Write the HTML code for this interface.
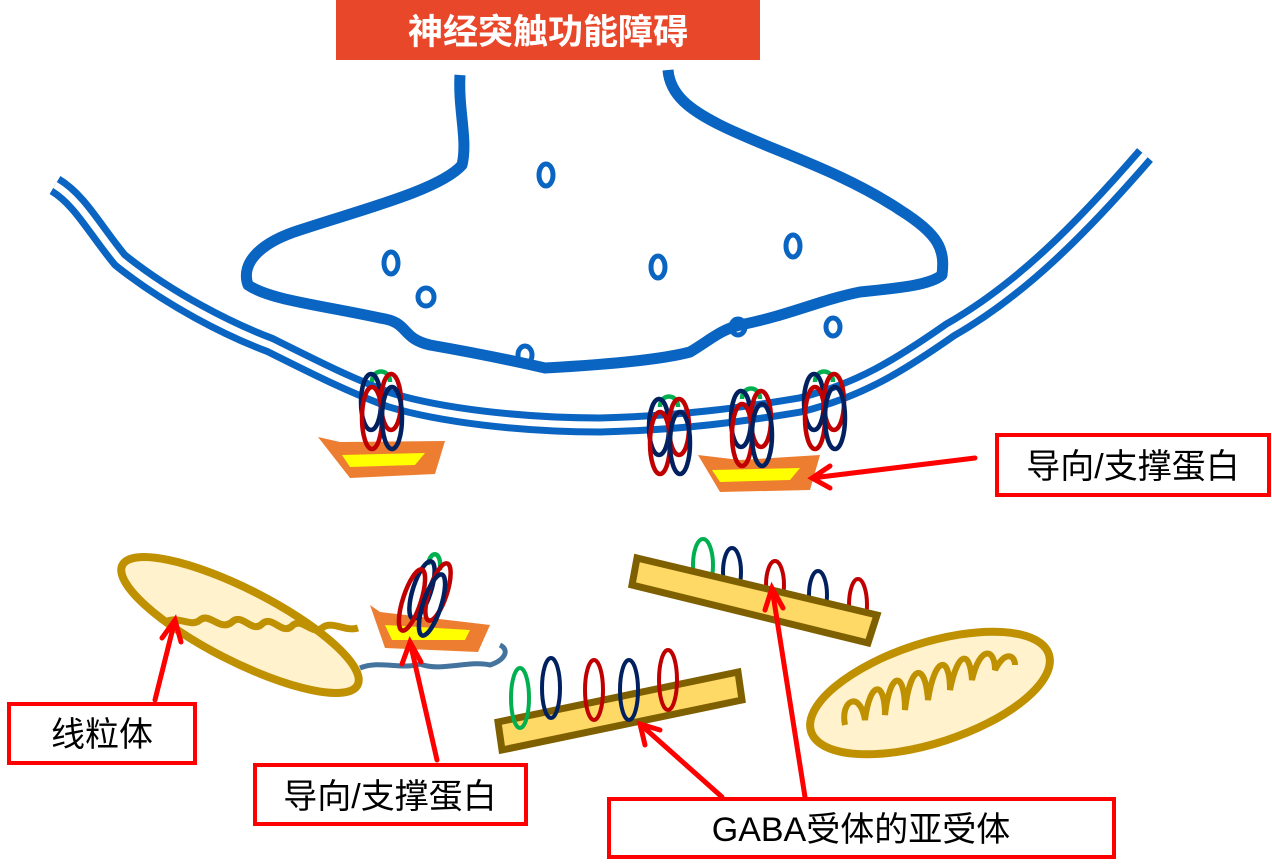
<!DOCTYPE html>
<html><head><meta charset="utf-8"><style>
body{margin:0;width:1272px;height:862px;background:#fff;overflow:hidden}
</style></head><body>
<svg width="1272" height="862" viewBox="0 0 1272 862" xmlns="http://www.w3.org/2000/svg" font-family="Liberation Sans, Noto Sans CJK SC, sans-serif">
<rect x="336" y="0" width="424" height="60" fill="#E8472A"/>
<text x="548" y="44" text-anchor="middle" fill="#fff" font-size="35" font-weight="bold">神经突触功能障碍</text>

<!-- postsynaptic membrane -->
<path d="M55,185 C80,200 95,230 120,260 C170,300 230,330 270,345 C320,370 350,385 390,400 C440,415 520,425 600,425 C680,423 740,415 800,405 C860,390 900,365 950,330 C1020,290 1080,230 1145,155" fill="none" stroke="#0A64C2" stroke-width="21"/>
<path d="M55,185 C80,200 95,230 120,260 C170,300 230,330 270,345 C320,370 350,385 390,400 C440,415 520,425 600,425 C680,423 740,415 800,405 C860,390 900,365 950,330 C1020,290 1080,230 1145,155" fill="none" stroke="#fff" stroke-width="7"/>

<!-- presynaptic terminal -->
<path d="M460,75 C458,110 468,140 462,165 C440,190 360,210 300,230 C262,242 240,262 248,285 C270,300 320,305 380,318 C410,322 400,338 430,345 C470,352 510,360 545,368 C600,365 660,360 690,352 C710,340 720,330 740,325 C790,315 820,300 860,292 C900,288 930,285 942,275 C945,250 940,235 900,210 C840,170 770,150 720,125 C690,110 670,95 668,70" fill="none" stroke="#0A64C2" stroke-width="11" stroke-linejoin="round"/>
<g fill="none" stroke="#0A64C2" stroke-width="5">
<ellipse cx="546" cy="175" rx="7" ry="11"/><ellipse cx="391" cy="263" rx="7" ry="11"/>
<ellipse cx="658" cy="267" rx="7" ry="11"/><ellipse cx="793" cy="246" rx="7" ry="11"/>
<ellipse cx="426" cy="297" rx="8" ry="9"/><ellipse cx="525" cy="355" rx="7" ry="9"/>
<ellipse cx="738" cy="327" rx="7" ry="8"/><ellipse cx="833" cy="327" rx="7" ry="9"/>
</g>

<!-- boats -->
<g>
<path d="M318,437 L340,442 L445,441 L435,474 L350,478 Z" fill="#ED7D31"/>
<path d="M342,455 L425,453 L415,465 L350,467 Z" fill="#FFFF00"/>
<path d="M698,455 L740,460 L820,455 L810,490 L720,492 Z" fill="#ED7D31"/>
<path d="M712,470 L800,468 L790,480 L720,482 Z" fill="#FFFF00"/>
</g>

<!-- receptor clusters -->
<defs>
<g id="rc" fill="none" stroke-width="4.5">
<path d="M-9,2 C-9,-12 9,-12 9,2" stroke="#00B050"/>
<ellipse cx="-10" cy="22" rx="10" ry="28" stroke="#002060"/>
<ellipse cx="10" cy="22" rx="10" ry="28" stroke="#C00000"/>
<ellipse cx="-9" cy="38" rx="10" ry="31" stroke="#C00000"/>
<ellipse cx="11" cy="38" rx="10" ry="31" stroke="#002060"/>
</g>
</defs>
<use href="#rc" x="381" y="380"/>
<use href="#rc" x="669" y="405"/>
<use href="#rc" x="751" y="397"/>
<use href="#rc" x="824" y="380"/>

<!-- left mitochondrion -->
<ellipse cx="240" cy="625" rx="132" ry="36" transform="rotate(27 240 625)" fill="#FFF2CC" stroke="#BF9000" stroke-width="8"/>
<path d="M165,622 C180,615 190,628 200,620 C210,612 220,632 232,622 C242,612 252,634 262,624 C272,614 282,636 292,626 C302,616 312,636 322,628 C332,620 345,632 358,628" fill="none" stroke="#BF9000" stroke-width="7"/>

<!-- right mitochondrion -->
<ellipse cx="930" cy="693" rx="125" ry="50" transform="rotate(-18 930 693)" fill="#FFF2CC" stroke="#BF9000" stroke-width="8"/>
<path d="M845,725 C840,700 860,690 865,720 C870,680 885,680 885,715 C890,670 905,670 905,710 C910,665 925,660 928,700 C935,655 950,655 950,690 C958,650 970,650 972,680 C980,645 995,648 995,670 C1005,650 1015,655 1015,665" fill="none" stroke="#BF9000" stroke-width="6"/>

<!-- lower-left boat with receptors -->
<path d="M360,668 C380,660 400,670 420,664 C440,672 470,660 490,665 C505,660 510,650 500,645" fill="none" stroke="#44739E" stroke-width="5"/>
<path d="M370,605 L380,612 L490,625 L478,652 L385,648 Z" fill="#ED7D31"/>
<path d="M385,625 L470,630 L465,640 L392,640 Z" fill="#FFFF00"/>
<g fill="none" stroke-width="4.5">
<path d="M428,565 C430,550 442,550 440,570" stroke="#00B050"/>
<ellipse cx="422" cy="590" rx="9" ry="30" transform="rotate(18 422 590)" stroke="#002060"/>
<ellipse cx="438" cy="592" rx="9" ry="30" transform="rotate(18 438 592)" stroke="#C00000"/>
<ellipse cx="412" cy="600" rx="9" ry="32" transform="rotate(18 412 600)" stroke="#C00000"/>
<ellipse cx="432" cy="605" rx="9" ry="32" transform="rotate(18 432 605)" stroke="#002060"/>
</g>

<!-- upper bar -->
<g fill="none" stroke-width="4">
<ellipse cx="703" cy="565" rx="10" ry="26" stroke="#00B050"/>
<ellipse cx="732" cy="572" rx="9" ry="24" stroke="#002060"/>
<ellipse cx="775" cy="585" rx="9" ry="24" stroke="#C00000"/>
<ellipse cx="818" cy="595" rx="9" ry="24" stroke="#002060"/>
<ellipse cx="858" cy="605" rx="9" ry="26" stroke="#C00000"/>
</g>
<path d="M637,558 L877,615 L868,643 L632,585 Z" fill="#FFD966" stroke="#7F6000" stroke-width="7"/>

<!-- lower bar -->
<path d="M498,722 L738,672 L742,700 L502,750 Z" fill="#FFD966" stroke="#7F6000" stroke-width="7"/>
<g fill="none" stroke-width="4">
<ellipse cx="520" cy="698" rx="9" ry="30" stroke="#00B050"/>
<ellipse cx="551" cy="688" rx="9" ry="30" stroke="#002060"/>
<ellipse cx="594" cy="690" rx="9" ry="30" stroke="#C00000"/>
<ellipse cx="629" cy="690" rx="9" ry="30" stroke="#002060"/>
<ellipse cx="668" cy="680" rx="9" ry="30" stroke="#C00000"/>
</g>

<!-- arrows -->
<g stroke="#FF0000" stroke-width="5" fill="none" stroke-linecap="round">
<path d="M975,458 L812,478 M830,466 L812,478 L830,488"/>
<path d="M155,700 L175,620 M162,638 L175,620 L181,642"/>
<path d="M437,760 L410,642 M402,664 L410,642 L421,662"/>
<path d="M722,797 L640,724 M645,745 L640,724 L660,730"/>
<path d="M805,797 L772,588 M765,610 L772,588 L783,608"/>
</g>

<!-- labels -->
<g fill="#fff" stroke="#FF0000" stroke-width="4">
<rect x="997" y="435" width="272" height="60"/>
<rect x="9" y="704" width="186" height="59"/>
<rect x="255" y="765" width="271" height="59"/>
<rect x="609" y="799" width="505" height="58"/>
</g>
<g font-size="34" fill="#000" text-anchor="middle">
<text x="1133" y="478">导向/支撑蛋白</text>
<text x="102" y="746">线粒体</text>
<text x="390" y="808">导向/支撑蛋白</text>
<text x="861" y="841">GABA受体的亚受体</text>
</g>
</svg>
</body></html>
